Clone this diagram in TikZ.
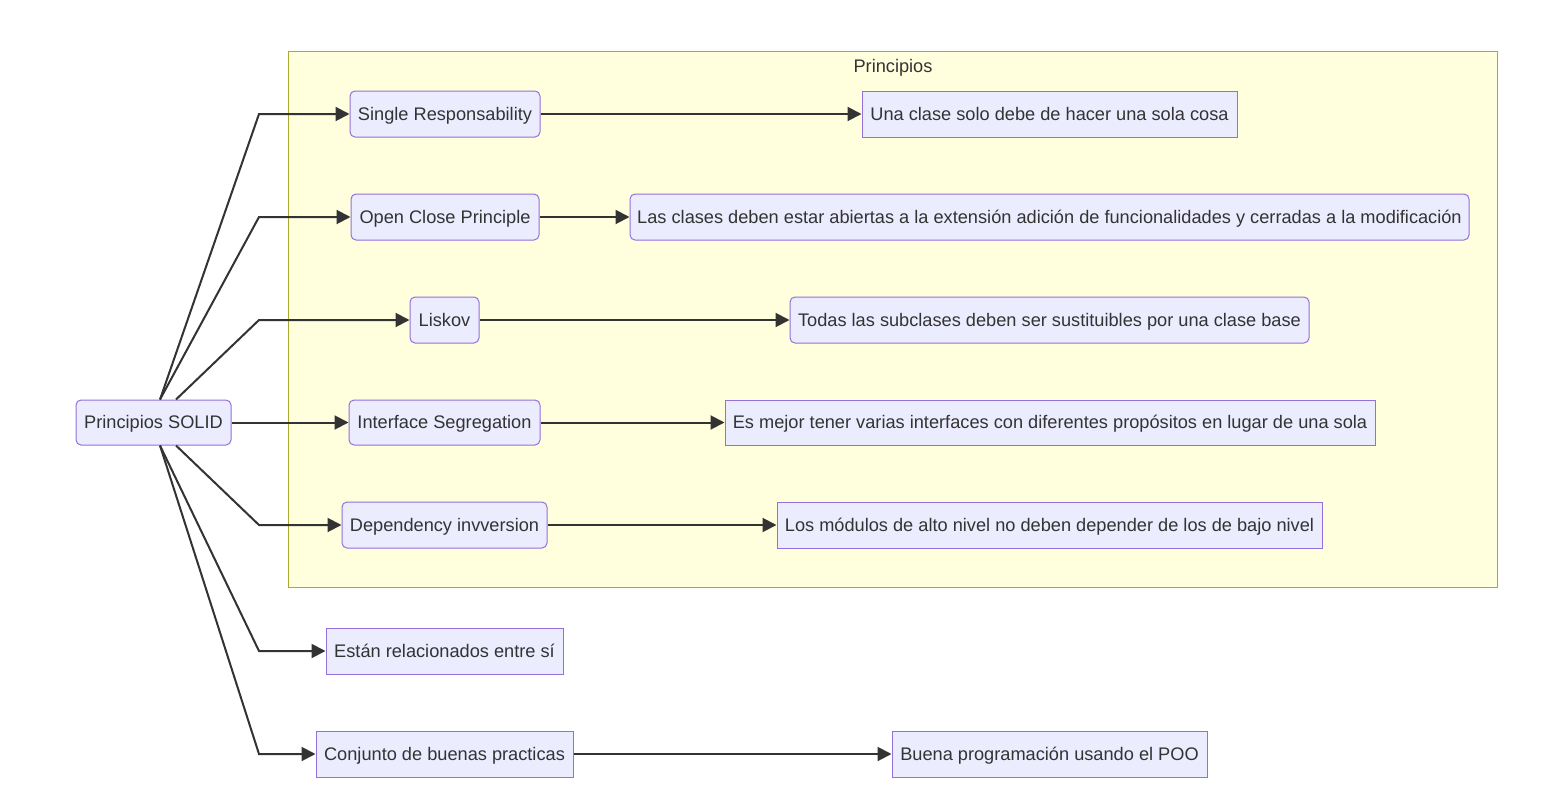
\documentclass[tikz,border=0pt]{standalone}
\usepackage{fontspec}
\setmainfont{Liberation Sans}
\usetikzlibrary{arrows.meta,calc}
\definecolor{nodefill}{HTML}{ECECFF}
\definecolor{nodedraw}{HTML}{9370DB}
\definecolor{clfill}{HTML}{FFFFDE}
\definecolor{cldraw}{HTML}{AAAA33}
\definecolor{txt}{HTML}{333333}
\tikzset{
  lbl/.style={text=txt, font=\fontsize{18.2}{21}\selectfont, text height=14pt, text depth=2pt},
  base/.style={lbl, draw=nodedraw, fill=nodefill, line width=1pt, inner sep=0pt,
    minimum height=46pt},
  rbox/.style={base, rounded corners=5pt},
  sbox/.style={base},
  arr/.style={draw=txt, line width=2pt, -{Triangle[length=14pt,width=14pt]}},
}
\begin{document}
\begin{tikzpicture}[x=1pt,y=-1pt]
\useasboundingbox (0,0) rectangle (1566,803);
\fill[white] (0,0) rectangle (1566,803);
% cluster
\node[draw=cldraw, fill=clfill, line width=1pt, minimum width=1209pt, minimum height=536pt, inner sep=0pt] (cl) at (892.5,319) {};
\node[lbl, inner sep=0pt] (cltitle) at (893,66) {Principios};
% nodes
\node[rbox, minimum width=155pt, minimum height=45pt] (solid) at (153.5,422.5) {Principios SOLID};
\node[rbox, minimum width=190pt] (sr) at (445,114) {Single Responsability};
\node[rbox, minimum width=188pt] (oc) at (445,217) {Open Close Principle};
\node[rbox, minimum width=69pt] (lk) at (444.5,320) {Liskov};
\node[rbox, minimum width=191pt, minimum height=45pt] (is) at (444.5,422.5) {Interface Segregation};
\node[rbox, minimum width=205pt] (di) at (444.5,525) {Dependency invversion};
\node[sbox, minimum width=237pt] (es) at (444.5,651) {Están relacionados entre sí};
\node[sbox, minimum width=257pt] (cj) at (444.5,754) {Conjunto de buenas practicas};
\node[sbox, minimum width=375pt] (d1) at (1049.5,114) {Una clase solo debe de hacer una sola cosa};
\node[rbox, minimum width=839pt] (d2) at (1049.5,217) {Las clases deben estar abiertas a la extensión adición de funcionalidades y cerradas a la modificación};
\node[rbox, minimum width=519pt] (d3) at (1049.5,320) {Todas las subclases deben ser sustituibles por una clase base};
\node[sbox, minimum width=650pt, minimum height=45pt] (d4) at (1050,422.5) {Es mejor tener varias interfaces con diferentes propósitos en lugar de una sola};
\node[sbox, minimum width=545pt] (d5) at (1049.5,525) {Los módulos de alto nivel no deben depender de los de bajo nivel};
\node[sbox, minimum width=315pt] (bp) at (1049.5,754) {Buena programación usando el POO};
% connectors from SOLID
\draw[arr] ([xshift=6.5pt]solid.north) -- (259,0 |- sr.west) -- (sr.west);
\draw[arr] ([xshift=6.5pt]solid.north) -- (259,0 |- oc.west) -- (oc.west);
\draw[arr] ([xshift=22.5pt]solid.north) -- (259,0 |- lk.west) -- (lk.west);
\draw[arr] (solid.east) -- (is.west);
\draw[arr] ([xshift=22.5pt]solid.south) -- (259,0 |- di.west) -- (di.west);
\draw[arr] ([xshift=6.5pt]solid.south) -- (259,0 |- es.west) -- (es.west);
\draw[arr] ([xshift=6.5pt]solid.south) -- (259,0 |- cj.west) -- (cj.west);
% principle to description
\draw[arr] (sr.east) -- (d1.west);
\draw[arr] (oc.east) -- (d2.west);
\draw[arr] (lk.east) -- (d3.west);
\draw[arr] (is.east) -- (d4.west);
\draw[arr] (di.east) -- (d5.west);
\draw[arr] (cj.east) -- (bp.west);
\end{tikzpicture}
\end{document}
